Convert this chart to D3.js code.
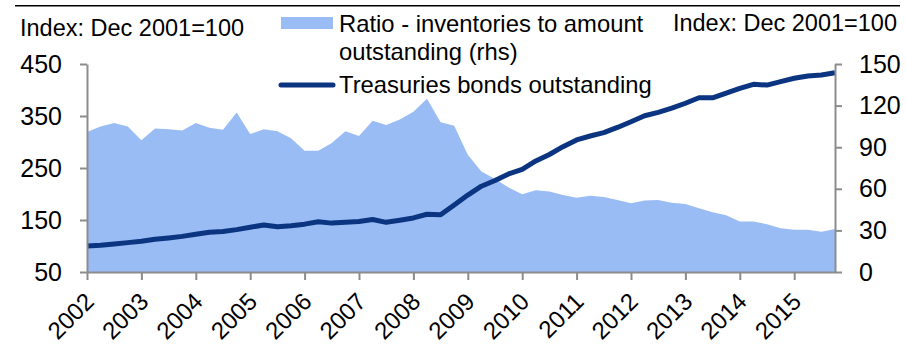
<!DOCTYPE html>
<html>
<head>
<meta charset="utf-8">
<script src="https://cdn.jsdelivr.net/npm/d3@7/dist/d3.min.js"></script>
<style>
  html, body { margin: 0; padding: 0; background: #fff; }
  svg { display: block; font-family: "Liberation Sans", Arial, sans-serif; }
</style>
</head>
<body>
<svg id="chart" width="906" height="345"></svg>
<script>
// Quarterly observations, Q1 2002 .. Q4 2015
const years = [2002, 2003, 2004, 2005, 2006, 2007, 2008, 2009, 2010, 2011, 2012, 2013, 2014, 2015];

// Treasuries bonds outstanding, index Dec 2001 = 100 (left axis)
const bondsOutstanding = [
  100, 101.5, 104, 106.5, 109, 113, 115.5, 118.5, 122.5, 126.5,
  128, 131.5, 136, 140.5, 137, 139, 142, 146.5, 144, 145.5,
  147, 151, 145.5, 149.5, 154, 161, 160, 179, 198, 215,
  226, 238.5, 247.5, 263.5, 276, 291, 304, 311.5, 318, 328,
  339, 350.5, 357, 365, 374.5, 385, 385, 394, 403, 411,
  409.5, 416, 422.5, 427, 429, 433
];

// Ratio of inventories to amount outstanding, index (right axis)
const inventoryRatio = [
  101, 105, 107.5, 105, 95, 103.5, 103, 102, 107.5, 104,
  102.5, 115, 99.5, 103, 101.5, 96.5, 87.5, 87.5, 93, 101.5,
  98, 109, 106, 110, 115.5, 125, 108, 105.5, 84.5, 72.5,
  67, 61, 56, 59, 58, 55.5, 53.5, 55, 54, 52,
  49.5, 51.5, 52, 50, 49, 46, 43, 41, 36.5, 36.5,
  34.5, 31.5, 30.5, 30.5, 29, 31
];

const leftTicks = [50, 150, 250, 350, 450];
const rightTicks = [0, 30, 60, 90, 120, 150];

const seriesNames = {
  ratio: ["Ratio - inventories to amount", "outstanding (rhs)"],
  bonds: "Treasuries bonds outstanding"
};
const axisTitle = "Index: Dec 2001=100";

const areaColor = "#9abcf5";
const lineColor = "#0b3580";
const axisColor = "#8c8c8c";

const svg = d3.select("#chart");
const plot = { left: 87, right: 835, top: 64, bottom: 272 };

const x = d3.scaleLinear().domain([0, inventoryRatio.length - 1]).range([plot.left, plot.right]);
const yLeft = d3.scaleLinear().domain([50, 450]).range([plot.bottom, plot.top]);
const yRight = d3.scaleLinear().domain([0, 150]).range([plot.bottom, plot.top]);

// top rule
svg.append("line")
  .attr("x1", 15).attr("x2", 900).attr("y1", 5.8).attr("y2", 5.8)
  .attr("stroke", "#000").attr("stroke-width", 1.6);

// ratio area (right axis)
const area = d3.area()
  .x((d, i) => x(i))
  .y0(yRight(0))
  .y1(d => yRight(d));
svg.append("path")
  .datum(inventoryRatio)
  .attr("d", area)
  .attr("fill", areaColor);

// bonds outstanding line (left axis)
const line = d3.line()
  .x((d, i) => x(i))
  .y(d => yLeft(d));
svg.append("path")
  .datum(bondsOutstanding)
  .attr("d", line)
  .attr("fill", "none")
  .attr("stroke", lineColor)
  .attr("stroke-width", 5)
  .attr("stroke-linejoin", "round");

function styleAxis(g) {
  g.select(".domain").attr("stroke", axisColor).attr("stroke-width", 2);
  g.selectAll(".tick line").attr("stroke", axisColor).attr("stroke-width", 2);
  g.selectAll(".tick text").attr("fill", "#000").attr("font-size", 25)
    .attr("font-family", "'Liberation Sans', Arial, sans-serif");
}

// left axis
svg.append("g")
  .attr("transform", `translate(${plot.left},0)`)
  .call(d3.axisLeft(yLeft).tickValues(leftTicks).tickSize(7).tickPadding(18).tickSizeOuter(0))
  .call(styleAxis);

// right axis
svg.append("g")
  .attr("transform", `translate(${plot.right},0)`)
  .call(d3.axisRight(yRight).tickValues(rightTicks).tickSize(7).tickPadding(17).tickSizeOuter(0))
  .call(styleAxis);

// bottom axis, a labelled tick at the first quarter of each year
const xTicks = years.map((y, k) => k * 4);
const xAxis = svg.append("g")
  .attr("transform", `translate(0,${plot.bottom})`)
  .call(d3.axisBottom(x).tickValues(xTicks).tickFormat((d, k) => years[k]).tickSize(8).tickSizeOuter(0))
  .call(styleAxis);
xAxis.selectAll(".tick text")
  .attr("text-anchor", "end")
  .attr("font-size", 24)
  .attr("dy", 0)
  .attr("y", 0)
  .attr("transform", "translate(8,31) rotate(-45)");

// axis titles
svg.append("text").attr("x", 20).attr("y", 36)
  .attr("font-size", 23.5).text(axisTitle);
svg.append("text").attr("x", 897).attr("y", 31).attr("text-anchor", "end")
  .attr("font-size", 23.5).text(axisTitle);

// legend
const legend = svg.append("g");
legend.append("rect")
  .attr("x", 281).attr("y", 17).attr("width", 52).attr("height", 12)
  .attr("fill", areaColor);
legend.append("text").attr("x", 339).attr("y", 32).attr("font-size", 23.8).text(seriesNames.ratio[0]);
legend.append("text").attr("x", 339).attr("y", 60).attr("font-size", 23.8).text(seriesNames.ratio[1]);
legend.append("line")
  .attr("x1", 281).attr("x2", 333).attr("y1", 85).attr("y2", 85)
  .attr("stroke", lineColor).attr("stroke-width", 5).attr("stroke-linecap", "round");
legend.append("text").attr("x", 339).attr("y", 93).attr("font-size", 23.8).text(seriesNames.bonds);
</script>
</body>
</html>
